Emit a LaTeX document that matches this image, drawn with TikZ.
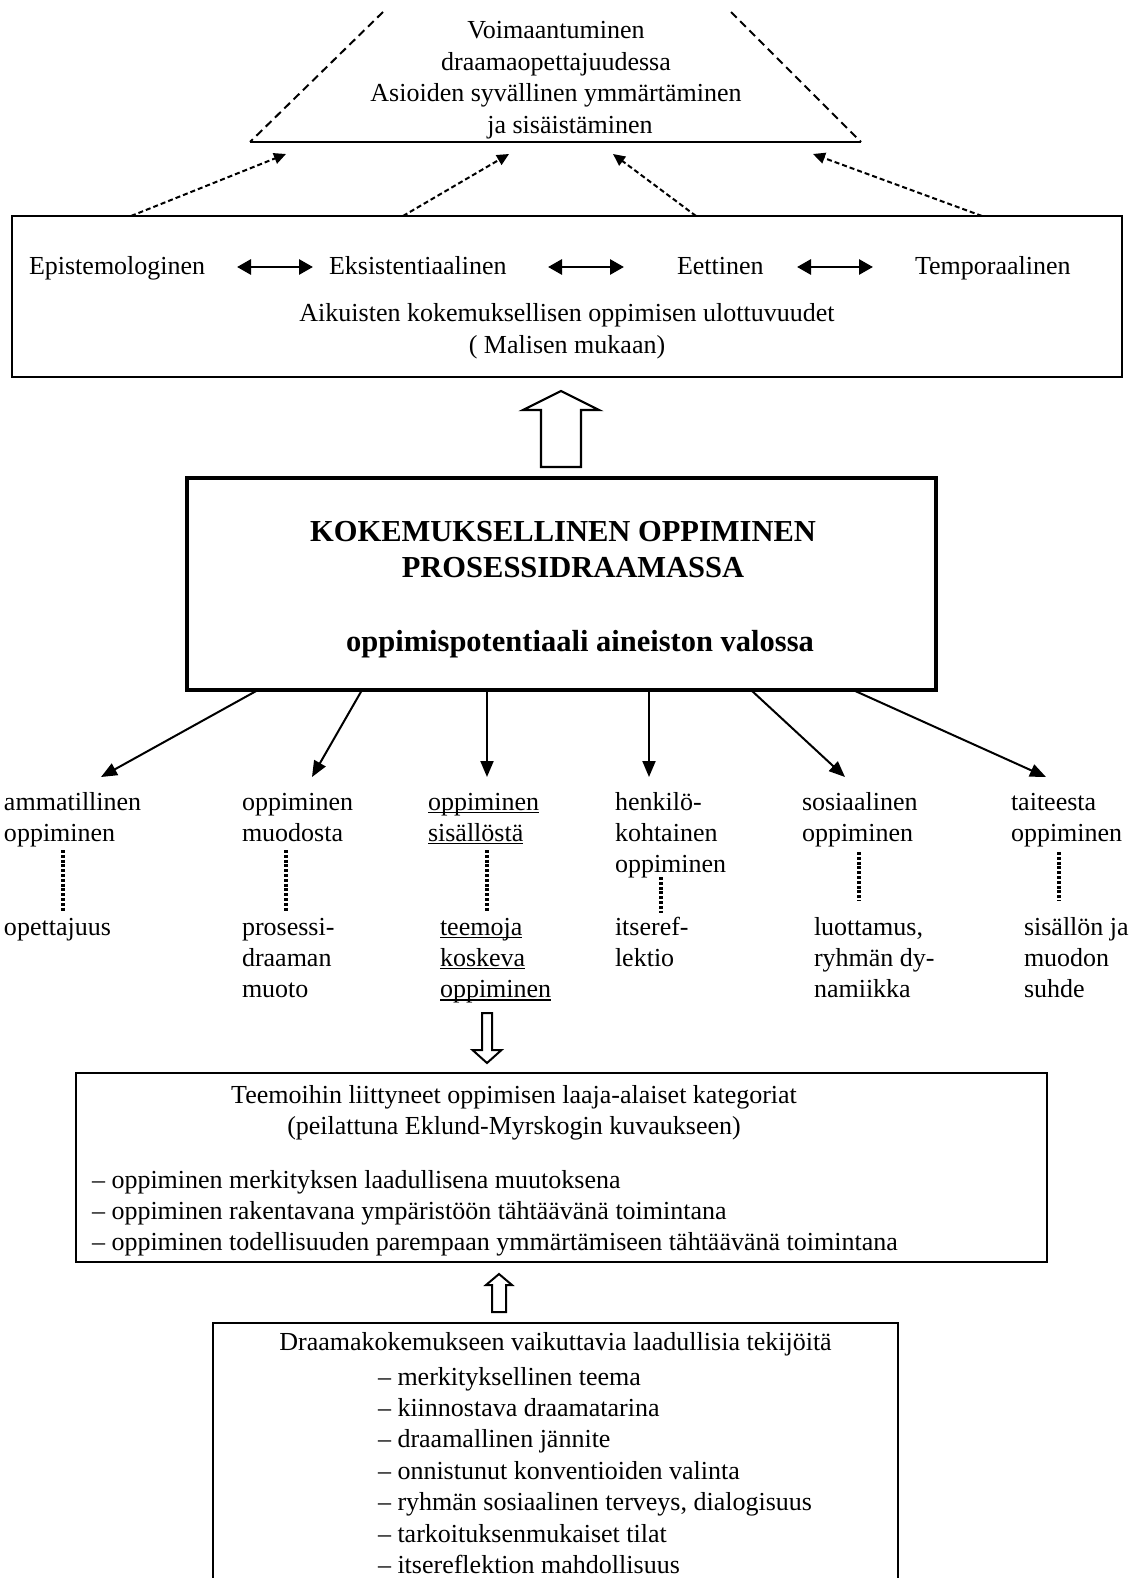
\documentclass[tikz,border=0pt]{standalone}
\usepackage{fontspec}
\setmainfont{Liberation Serif}
\usetikzlibrary{arrows.meta}
% underline drawn as a rule just under the baseline
\newcommand\ulw[1]{\setbox0=\hbox{#1}\rlap{\rule[-3pt]{\wd0}{1.5pt}}\box0}
% line skip of the body text
\newcommand\lsk{31.4}
\begin{document}
\begin{tikzpicture}[x=1pt,y=-1pt,
  every node/.style={font=\fontsize{26}{31.4}\selectfont, inner sep=0pt, outer sep=0pt},
  frame/.style={draw, line width=2.5pt, rectangle},
  txt/.style={align=left, anchor=base west},
  ctr/.style={align=center, anchor=base},
  heading/.style={anchor=base, font=\fontsize{30.5}{36}\selectfont\bfseries},
  arr/.style={line width=2pt, -{Triangle[length=16pt,width=13pt]}},
  twoway/.style={line width=2.8pt, {Triangle[length=14pt,width=15pt]}-{Triangle[length=14pt,width=15pt]}},
  hint/.style={line width=2pt, dash pattern=on 5pt off 3pt, -{Triangle[length=12pt,width=11pt]}},
  rim/.style={line width=2pt, dash pattern=on 8pt off 5pt},
  dots/.style={line width=3.3pt, dash pattern=on 3pt off 1.8pt},
  hollow/.style={draw, line width=2.2pt, fill=white, line join=miter}
]
\useasboundingbox (0,0) rectangle (1138,1578);
\fill[white] (0,0) rectangle (1138,1578);

% multi-line nodes sit on the baseline of their last line,
% so each is placed at first baseline + (lines-1) * line skip

% ---- open trapezoid at the top
\coordinate (tl) at (383,12);
\coordinate (bl) at (250,142);
\coordinate (tr) at (731,12);
\coordinate (br) at (861,142);
\draw[rim] (tl) -- (bl);
\draw[rim] (tr) -- (br);
\draw[line width=2.5pt] (bl) -- (br);
\node[ctr] (goal) at (556,{39+3*\lsk}) {Voimaantuminen\\draamaopettajuudessa\\Asioiden syvällinen ymmärtäminen\\\hspace*{28pt}ja sisäistäminen};

% ---- dimensions box
\node[frame, minimum width=1110pt, minimum height=161pt] (dims) at (567,296.5) {};
\node[anchor=base west] (epi) at (29,275) {Epistemologinen};
\node[anchor=base west] (eks) at (329,275) {Eksistentiaalinen};
\node[anchor=base west] (eet) at (677,275) {Eettinen};
\node[anchor=base west] (tem) at (915,275) {Temporaalinen};
\node[ctr] (dimcap) at (567,{322+\lsk}) {Aikuisten kokemuksellisen oppimisen ulottuvuudet\\( Malisen mukaan)};

\coordinate (w1a) at (237,267); \coordinate (w1b) at (313,267);
\coordinate (w2a) at (548,267); \coordinate (w2b) at (624,267);
\coordinate (w3a) at (797,267); \coordinate (w3b) at (873,267);
\draw[twoway] (w1a) -- (w1b);
\draw[twoway] (w2a) -- (w2b);
\draw[twoway] (w3a) -- (w3b);

% ---- dashed arrows up to the trapezoid
\coordinate (h1s) at (131,216); \coordinate (h1e) at (286,154);
\coordinate (h2s) at (403,216); \coordinate (h2e) at (509,154);
\coordinate (h3s) at (696,216); \coordinate (h3e) at (613,154);
\coordinate (h4s) at (982,216); \coordinate (h4e) at (813,154);
\draw[hint] (h1s) -- (h1e);
\draw[hint] (h2s) -- (h2e);
\draw[hint] (h3s) -- (h3e);
\draw[hint] (h4s) -- (h4e);

% ---- hollow arrow from the core box to the dimensions box
\draw[hollow] (541,467) -- (541,410) -- (523,410) -- (561,391) -- (599,410) -- (581,410) -- (581,467) -- cycle;

% ---- core box
\node[draw, line width=4pt, minimum width=749pt, minimum height=212pt] (core) at (561.5,584) {};
\node[heading] (t1) at (563,541) {KOKEMUKSELLINEN OPPIMINEN};
\node[heading] (t2) at (573,577) {PROSESSIDRAAMASSA};
\node[heading] (t3) at (580,651) {oppimispotentiaali aineiston valossa};

% ---- arrows to the six forms of learning
\coordinate (c1s) at (258,690); \coordinate (c1e) at (101,777);
\coordinate (c2s) at (362,690); \coordinate (c2e) at (312,777);
\coordinate (c3s) at (487,690); \coordinate (c3e) at (487,777);
\coordinate (c4s) at (649,690); \coordinate (c4e) at (649,777);
\coordinate (c5s) at (751,690); \coordinate (c5e) at (845,777);
\coordinate (c6s) at (853,690); \coordinate (c6e) at (1046,777);
\foreach \i in {1,...,6} \draw[arr] (c\i s) -- (c\i e);

\node[txt] (k1) at (4,{810+\lsk}) {ammatillinen\\oppiminen};
\node[txt] (k2) at (242,{810+\lsk}) {oppiminen\\muodosta};
\node[txt] (k3) at (428,{810+\lsk}) {\ulw{oppiminen}\\\ulw{sisällöstä}};
\node[txt] (k4) at (615,{810+2*\lsk}) {henkilö-\\kohtainen\\oppiminen};
\node[txt] (k5) at (802,{810+\lsk}) {sosiaalinen\\oppiminen};
\node[txt] (k6) at (1011,{810+\lsk}) {taiteesta\\oppiminen};

\node[txt] (s1) at (4,935) {opettajuus};
\node[txt] (s2) at (242,{935+2*\lsk}) {prosessi-\\draaman\\muoto};
\node[txt] (s3) at (440,{935+2*\lsk}) {\ulw{teemoja}\\\ulw{koskeva}\\\ulw{oppiminen}};
\node[txt] (s4) at (615,{935+\lsk}) {itseref-\\lektio};
\node[txt] (s5) at (814,{935+2*\lsk}) {luottamus,\\ryhmän dy-\\namiikka};
\node[txt] (s6) at (1024,{935+2*\lsk}) {sisällön ja\\muodon\\suhde};

\coordinate (d1a) at (63,850);   \coordinate (d1b) at (63,912);
\coordinate (d2a) at (286,850);  \coordinate (d2b) at (286,912);
\coordinate (d3a) at (487,850);  \coordinate (d3b) at (487,912);
\coordinate (d4a) at (661,877);  \coordinate (d4b) at (661,913);
\coordinate (d5a) at (859,852);  \coordinate (d5b) at (859,901);
\coordinate (d6a) at (1059,852); \coordinate (d6b) at (1059,901);
\foreach \i in {1,...,6} \draw[dots] (d\i a) -- (d\i b);

% ---- small hollow arrow down to the categories
\draw[hollow, line width=2pt] (482,1013) -- (492,1013) -- (492,1050) -- (501.5,1050) -- (487,1063) -- (472.5,1050) -- (482,1050) -- cycle;

% ---- categories box
\node[frame, minimum width=971pt, minimum height=189pt] (cats) at (561.5,1167.5) {};
\node[ctr] (catt) at (514,{1103+\lsk}) {Teemoihin liittyneet oppimisen laaja-alaiset kategoriat\\(peilattuna Eklund-Myrskogin kuvaukseen)};
\node[txt] (catl) at (92,{1188+2*\lsk}) {– oppiminen merkityksen laadullisena muutoksena\\– oppiminen rakentavana ympäristöön tähtäävänä toimintana\\– oppiminen todellisuuden parempaan ymmärtämiseen tähtäävänä toimintana};

% ---- small hollow arrow up from the factors box
\draw[hollow, line width=2pt] (492,1312) -- (492,1285) -- (486,1285) -- (499,1274) -- (512,1285) -- (506,1285) -- (506,1312) -- cycle;

% ---- factors box (runs past the lower edge)
\node[frame, minimum width=685pt, minimum height=330pt, anchor=north] (fac) at (555.5,1323) {};
\node[anchor=base] (fact) at (555.5,1350) {Draamakokemukseen vaikuttavia laadullisia tekijöitä};
\node[txt] (facl) at (378,{1385+6*\lsk}) {– merkityksellinen teema\\– kiinnostava draamatarina\\– draamallinen jännite\\– onnistunut konventioiden valinta\\– ryhmän sosiaalinen terveys, dialogisuus\\– tarkoituksenmukaiset tilat\\– itsereflektion mahdollisuus};
\end{tikzpicture}
\end{document}
